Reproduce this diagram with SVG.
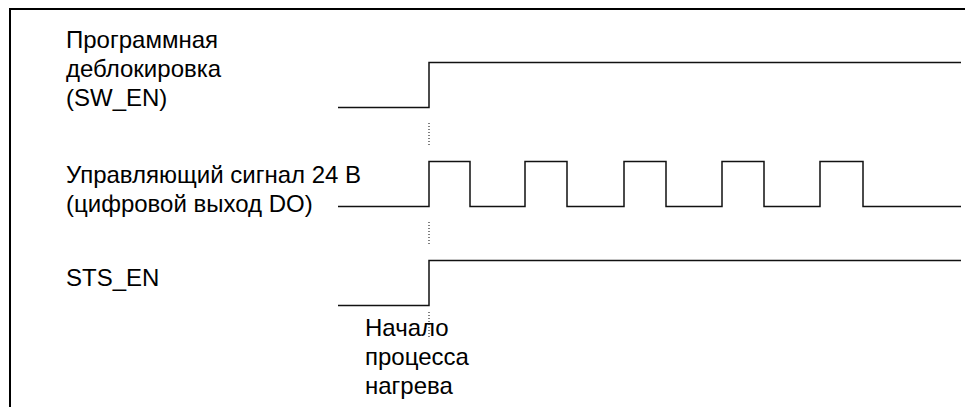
<svg xmlns="http://www.w3.org/2000/svg" width="965" height="407" viewBox="0 0 965 407">
<style>
.t{font-family:"Liberation Sans",Arial,sans-serif;font-size:24px;fill:#000}
.sig{fill:none;stroke:#111;stroke-width:1.5}
.dot{fill:none;stroke:#000;stroke-width:1;stroke-dasharray:1 2}
</style>
<rect width="965" height="407" fill="#fff"/>
<path d="M10,407 V9 H965" fill="none" stroke="#000" stroke-width="2"/>
<g id="label-sw-en">
<text class="t" x="66" y="48">Программная</text>
<text class="t" x="66" y="77">деблокировка</text>
<text class="t" x="66" y="106">(SW_EN)</text>
</g>
<g id="label-do">
<text class="t" x="66" y="183">Управляющий сигнал 24 В</text>
<text class="t" x="66" y="212">(цифровой выход DO)</text>
</g>
<g id="label-sts-en">
<text class="t" x="66" y="286">STS_EN</text>
</g>
<g id="label-start">
<text class="t" x="365" y="336">Начало</text>
<text class="t" x="365" y="365">процесса</text>
<text class="t" x="365" y="394">нагрева</text>
</g>
<g id="connectors">
<path class="sig" d="M338,107.5 H429 V62.5 H961"/>
<path class="sig" d="M338,206.5 H429 V161.5 H470 V206.5 H525 V161.5 H567 V206.5 H624 V161.5 H666 V206.5 H722 V161.5 H764 V206.5 H820 V161.5 H863 V206.5 H961"/>
<path class="sig" d="M338,305.5 H429 V260.5 H961"/>
<path class="dot" d="M429,123 V146"/>
<path class="dot" d="M429,222 V245"/>
<path class="dot" d="M429,312 V338"/>
</g>
</svg>
